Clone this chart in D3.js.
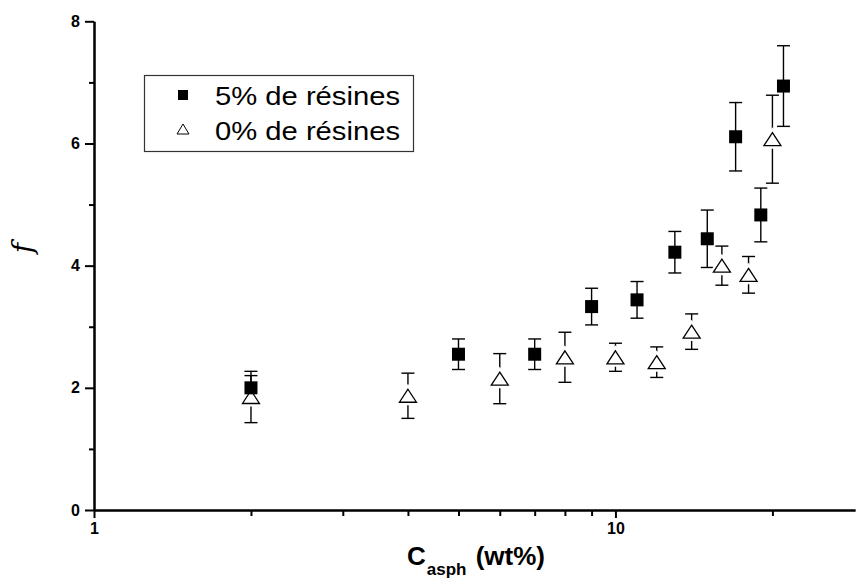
<!DOCTYPE html>
<html>
    <head>
        <title>f vs Casph</title>
        <script src="https://d3js.org/d3.v7.min.js"></script>
        <style>
            body { margin: 0; background: white; }
            #myCanvas { background-color: white; }
            .tick text { font-family: "Liberation Sans", Arial, sans-serif; font-weight: bold; font-size: 16px; }
        </style>
    </head>
    <body>
        <svg id="myCanvas" width="859" height="578"></svg>

        <script>
            // 5% de résines (squares)
            xSq = [2, 5, 7, 9, 11, 13, 15, 17, 19, 21]
            ySq = [2.0, 2.55, 2.55, 3.33, 3.44, 4.22, 4.44, 6.11, 4.83, 6.94]
            eSq = [0.2, 0.25, 0.25, 0.3, 0.3, 0.34, 0.47, 0.56, 0.44, 0.66]

            // 0% de résines (triangles)
            xTri = [2, 4, 6, 8, 10, 12, 14, 16, 18, 20]
            yTri = [1.85, 1.87, 2.15, 2.5, 2.5, 2.42, 2.92, 4.0, 3.85, 6.07]
            eTri = [0.42, 0.37, 0.41, 0.41, 0.23, 0.25, 0.29, 0.32, 0.30, 0.72]

            xMajor = [1, 10]
            xMinor = [2, 3, 4, 5, 6, 7, 8, 9, 20]
            yMajor = [0, 2, 4, 6, 8]
            yMinor = [1, 3, 5, 7]
            legendLabels = ["5% de résines", "0% de résines"]

            svg = d3.select("#myCanvas")
            x = d3.scaleLog([1, 28.8], [94, 855])
            y = d3.scaleLinear([0, 8], [510, 21.3])

            // axes
            axisG = svg.append("g")
            axisG.append("g")
                .attr("transform", "translate(0," + y(0) + ")")
                .call(d3.axisBottom(x).tickValues(xMinor).tickSize(6).tickSizeOuter(0).tickFormat(""))
            axisG.append("g")
                .attr("transform", "translate(0," + y(0) + ")")
                .call(d3.axisBottom(x).tickValues(xMajor).tickSize(8).tickSizeOuter(0).tickPadding(5).tickFormat(d3.format("d")))
            axisG.append("g")
                .attr("transform", "translate(" + x(1) + ",0)")
                .call(d3.axisLeft(y).tickValues(yMinor).tickSize(5).tickSizeOuter(0).tickFormat(""))
            axisG.append("g")
                .attr("transform", "translate(" + x(1) + ",0)")
                .call(d3.axisLeft(y).tickValues(yMajor).tickSize(9).tickSizeOuter(0).tickPadding(5).tickFormat(d3.format("d")))
            axisG.selectAll(".domain").attr("stroke-width", 2)
            axisG.selectAll(".tick line").attr("stroke-width", 2)

            // error bars
            function errBars(xs, ys, es) {
                g = svg.append("g").attr("stroke", "black").attr("stroke-width", 1.4)
                xs.forEach(function (v, i) {
                    px = x(v)
                    g.append("line").attr("x1", px).attr("x2", px)
                        .attr("y1", y(ys[i] + es[i])).attr("y2", y(ys[i] - es[i]))
                    g.append("line").attr("x1", px - 6.5).attr("x2", px + 6.5)
                        .attr("y1", y(ys[i] + es[i])).attr("y2", y(ys[i] + es[i]))
                    g.append("line").attr("x1", px - 6.5).attr("x2", px + 6.5)
                        .attr("y1", y(ys[i] - es[i])).attr("y2", y(ys[i] - es[i]))
                })
            }
            errBars(xSq, ySq, eSq)
            errBars(xTri, yTri, eTri)

            function triPath(cx, cy, w, h) {
                return "M" + cx + "," + (cy - h / 2) + "L" + (cx + w / 2) + "," + (cy + h / 2) +
                    "L" + (cx - w / 2) + "," + (cy + h / 2) + "Z"
            }

            // triangles (white gap around them)
            triG = svg.append("g")
            xTri.forEach(function (v, i) {
                triG.append("path").attr("d", triPath(x(v), y(yTri[i]), 17, 13))
                    .attr("fill", "white").attr("stroke", "white").attr("stroke-width", 6)
            })
            xTri.forEach(function (v, i) {
                triG.append("path").attr("d", triPath(x(v), y(yTri[i]), 17, 13))
                    .attr("fill", "white").attr("stroke", "black").attr("stroke-width", 1.3)
            })

            // squares
            svg.append("g").selectAll("rect")
                .data(xSq)
                .enter()
                .append("rect")
                .attr("x", d => x(d) - 6.5)
                .attr("y", (d, i) => y(ySq[i]) - 6.5)
                .attr("width", 13)
                .attr("height", 13)
                .attr("fill", "black")

            // legend
            leg = svg.append("g")
            leg.append("rect").attr("x", 144.5).attr("y", 75.5).attr("width", 269).attr("height", 76)
                .attr("fill", "white").attr("stroke", "#333").attr("stroke-width", 1.2)
            leg.append("rect").attr("x", 178).attr("y", 90).attr("width", 10).attr("height", 10).attr("fill", "black")
            leg.append("path").attr("d", triPath(183, 129, 12, 10))
                .attr("fill", "white").attr("stroke", "black").attr("stroke-width", 1)
            leg.selectAll("text")
                .data(legendLabels)
                .enter()
                .append("text")
                .attr("x", 215)
                .attr("y", (d, i) => 105 + i * 35)
                .attr("font-family", "Liberation Sans, Arial, sans-serif")
                .attr("font-size", 26)
                .attr("textLength", 185)
                .attr("lengthAdjust", "spacingAndGlyphs")
                .text(d => d)

            // axis titles
            xt = svg.append("text")
                .attr("x", 407)
                .attr("y", 565)
                .attr("font-family", "Liberation Sans, Arial, sans-serif")
                .attr("font-weight", "bold")
                .attr("font-size", 26)
            xt.append("tspan").text("C")
            xt.append("tspan").attr("font-size", 17).attr("dy", 10).attr("dx", 1).text("asph")
            xt.append("tspan").attr("dy", -10).attr("dx", 2).text(" (wt%)")

            svg.append("text")
                .attr("transform", "translate(32,248) rotate(-90)")
                .attr("text-anchor", "middle")
                .attr("font-family", "DejaVu Serif, serif")
                .attr("font-style", "italic")
                .attr("font-size", 28)
                .text("f")
        </script>
    </body>
</html>
